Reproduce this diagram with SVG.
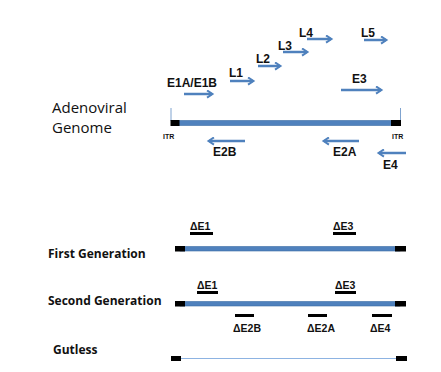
<svg xmlns="http://www.w3.org/2000/svg" width="441" height="372" viewBox="0 0 441 372">
<defs>
<style>
.lbl{font-family:"Liberation Sans",Arial,sans-serif;font-weight:bold;font-size:12px;fill:#111}
.big{font-family:"Open Sans","Liberation Sans",sans-serif;font-size:15px;fill:#111}
.gen{font-family:"Open Sans","Liberation Sans",sans-serif;font-weight:bold;font-size:12px;fill:#111}
.itr{font-family:"Liberation Sans",Arial,sans-serif;font-weight:bold;font-size:7px;fill:#111}
.arr{stroke:#4F81BD;stroke-width:2.5;fill:none;marker-end:url(#ah)}
.blue{fill:#4F81BD;stroke:#3B6CA3;stroke-width:0.6}
.blk{fill:#000}
.del{stroke:#000;stroke-width:3}
.tick{stroke:#7FA3CF;stroke-width:1}
</style>
<marker id="ah" viewBox="0 0 10 10" refX="7" refY="5" markerWidth="9" markerHeight="9" markerUnits="userSpaceOnUse" orient="auto">
<path d="M1.5,1 L7.5,5 L1.5,9" fill="none" stroke="#4F81BD" stroke-width="2.2"/>
</marker>
</defs>

<g id="genome">
<text class="big" x="52" y="113">Adenoviral</text>
<text class="big" x="52" y="133">Genome</text>
<line class="tick" x1="171" y1="108" x2="171" y2="121"/>
<line class="tick" x1="400.5" y1="108" x2="400.5" y2="121"/>
<rect class="blue" x="176" y="120.5" width="218" height="5"/>
<rect class="blk" x="170.5" y="120" width="9" height="6"/>
<rect class="blk" x="391" y="120" width="10" height="6"/>
<text class="itr" x="163" y="139">ITR</text>
<text class="itr" x="392" y="139">ITR</text>
</g>

<g id="connectors">
<line class="arr" x1="184" y1="94" x2="212" y2="94"/>
<line class="arr" x1="230" y1="81" x2="253" y2="81"/>
<line class="arr" x1="258" y1="66" x2="280" y2="66"/>
<line class="arr" x1="283" y1="52" x2="307" y2="52"/>
<line class="arr" x1="307" y1="39" x2="331" y2="39"/>
<line class="arr" x1="364" y1="40" x2="386" y2="40"/>
<line class="arr" x1="341" y1="90" x2="381" y2="90"/>
<line class="arr" x1="245" y1="141" x2="209" y2="141"/>
<line class="arr" x1="359" y1="141" x2="324" y2="141"/>
<line class="arr" x1="406" y1="153" x2="379" y2="153"/>
</g>

<g id="gene-labels">
<text class="lbl" x="167" y="87">E1A/E1B</text>
<text class="lbl" x="229" y="77">L1</text>
<text class="lbl" x="256" y="63">L2</text>
<text class="lbl" x="278" y="50">L3</text>
<text class="lbl" x="299" y="37">L4</text>
<text class="lbl" x="361" y="37">L5</text>
<text class="lbl" x="352" y="83">E3</text>
<text class="lbl" x="213" y="156">E2B</text>
<text class="lbl" x="333" y="156">E2A</text>
<text class="lbl" x="383" y="169">E4</text>
</g>

<g id="first-generation">
<text class="gen" x="48" y="258">First Generation</text>
<rect class="blue" x="180" y="246.5" width="220" height="4.5"/>
<rect class="blk" x="175" y="246" width="10" height="5.5"/>
<rect class="blk" x="395" y="246" width="11" height="5.5"/>
<text class="lbl" x="190" y="230" style="font-size:10.5px">ΔE1</text>
<line class="del" x1="190" y1="233.5" x2="213" y2="233.5"/>
<text class="lbl" x="333" y="230" style="font-size:10.5px">ΔE3</text>
<line class="del" x1="333" y1="233.5" x2="356" y2="233.5"/>
</g>

<g id="second-generation">
<text class="gen" x="48" y="305">Second Generation</text>
<rect class="blue" x="180" y="301.5" width="220" height="4.5"/>
<rect class="blk" x="175" y="301" width="10" height="5.5"/>
<rect class="blk" x="395" y="301" width="11" height="5.5"/>
<text class="lbl" x="197" y="289" style="font-size:10.5px">ΔE1</text>
<line class="del" x1="197" y1="292.5" x2="218" y2="292.5"/>
<text class="lbl" x="335" y="289" style="font-size:10.5px">ΔE3</text>
<line class="del" x1="335" y1="292.5" x2="356" y2="292.5"/>
<line class="del" x1="235" y1="315.5" x2="254" y2="315.5"/>
<text class="lbl" x="233" y="332" style="font-size:10.5px">ΔE2B</text>
<line class="del" x1="308" y1="315.5" x2="327" y2="315.5"/>
<text class="lbl" x="307" y="332" style="font-size:10.5px">ΔE2A</text>
<line class="del" x1="372" y1="315.5" x2="392" y2="315.5"/>
<text class="lbl" x="370" y="332" style="font-size:10.5px">ΔE4</text>
</g>

<g id="gutless">
<text class="gen" x="53" y="354">Gutless</text>
<line x1="180" y1="358.5" x2="397" y2="358.5" stroke="#8DB3E2" stroke-width="1.2"/>
<rect class="blk" x="171" y="356" width="10" height="5"/>
<rect class="blk" x="396" y="356" width="11" height="5"/>
</g>
</svg>
